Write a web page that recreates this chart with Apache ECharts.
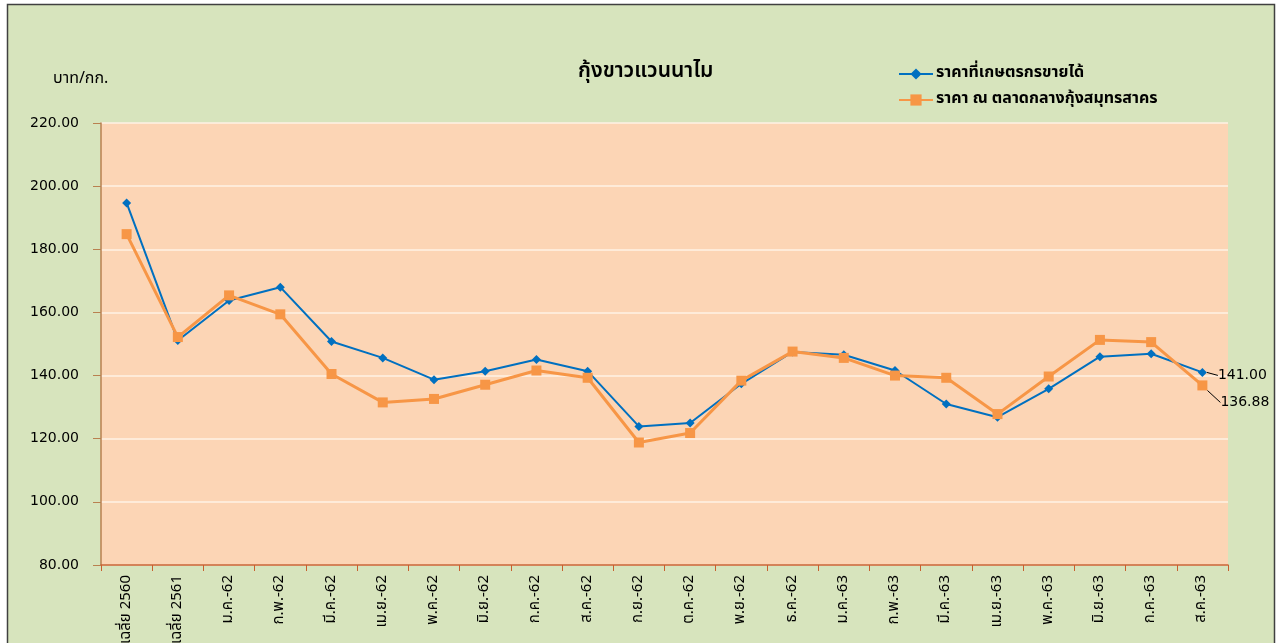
<!DOCTYPE html>
<html><head><meta charset="utf-8">
<script src="https://cdn.jsdelivr.net/npm/echarts@6/dist/echarts.min.js"></script>
<style>html,body{margin:0;padding:0;background:#fff}#c{width:1277px;height:643px}</style>
</head><body><div id="c"></div>
<script>
var categories = ['เฉลี่ย 2560','เฉลี่ย 2561','ม.ค.-62','ก.พ.-62','มี.ค.-62','เม.ย.-62','พ.ค.-62','มิ.ย.-62','ก.ค.-62','ส.ค.-62','ก.ย.-62','ต.ค.-62','พ.ย.-62','ธ.ค.-62','ม.ค.-63','ก.พ.-63','มี.ค.-63','เม.ย.-63','พ.ค.-63','มิ.ย.-63','ก.ค.-63','ส.ค.-63'];
var farmPrice = [194.7,151.1,163.8,168.0,150.8,145.6,138.7,141.4,145.1,141.4,123.9,125.0,137.4,147.5,146.6,141.6,131.0,126.8,135.8,146.0,146.9,141.00];
var marketPrice = [184.8,152.2,165.4,159.4,140.5,131.5,132.6,137.1,141.6,139.3,118.8,121.8,138.4,147.6,145.6,140.0,139.3,127.8,139.7,151.3,150.6,136.88];
var yTicks = {min:80, max:220, interval:20};
var seriesNames = ['ราคาที่เกษตรกรขายได้','ราคา ณ ตลาดกลางกุ้งสมุทรสาคร'];
var titleText = 'กุ้งขาวแวนนาไม';
var unitText = 'บาท/กก.';

var thai = '"Noto Sans Thai","Tahoma","DejaVu Sans",sans-serif';
var numFont = '"DejaVu Sans",sans-serif';
var chart = echarts.init(document.getElementById('c'));
var last = categories.length - 1;

function withEndLabel(values){
  return values.map(function(v, i){
    if (i !== last) return v;
    return {
      value: v,
      label: {show:true, position:'right', distance:8, fontFamily:numFont, fontSize:14, color:'#000',
              formatter:function(p){ return p.value.toFixed(2); }},
      labelLine: {show:true, lineStyle:{color:'#000', width:1}}
    };
  });
}
function shift(dx, dy){
  return function(p){ return p.dataIndex === last ? {dx:dx, dy:dy} : {}; };
}

chart.setOption({
  animation:false,
  backgroundColor:'#ffffff',
  graphic:[
    {type:'rect', z:-10, shape:{x:7.5,y:4.5,width:1267,height:645}, style:{fill:'#D7E4BD', stroke:'#404040', lineWidth:1.5}},
    {type:'text', left:53, top:72, style:{text:unitText, font:'16px '+thai, fill:'#000'}},
    {type:'text', left:578, top:62, style:{text:titleText, font:'600 21px '+thai, fill:'#000'}}
  ],
  legend:{
    left:898, top:66, orient:'vertical', itemGap:10, itemWidth:34, itemHeight:14, padding:0,
    textStyle:{fontFamily:thai, fontSize:16, fontWeight:'bold', color:'#000', padding:[0,0,0,-2]},
    data:seriesNames
  },
  grid:{left:101, right:49, top:123, bottom:78, show:true, backgroundColor:'#FCD5B5', borderWidth:0, outerBoundsMode:'none', containLabel:false},
  xAxis:{
    type:'category', data:categories, boundaryGap:true,
    axisLine:{lineStyle:{color:'#C8602E', width:1.5}},
    axisTick:{show:true, length:6, lineStyle:{color:'#C8602E'}},
    axisLabel:{rotate:90, fontFamily:thai, fontSize:15, color:'#000', margin:10, interval:0}
  },
  yAxis:{
    type:'value', min:yTicks.min, max:yTicks.max, interval:yTicks.interval,
    axisLine:{show:true, lineStyle:{color:'#B98050', width:1.5}},
    axisTick:{show:true, length:8, lineStyle:{color:'#B98050'}},
    axisLabel:{formatter:function(v){return v.toFixed(2);}, fontFamily:numFont, fontSize:14, color:'#000', margin:22},
    splitLine:{lineStyle:{color:'#FFF2E6', width:1.5}}
  },
  series:[
    {name:seriesNames[0], type:'line', data:withEndLabel(farmPrice), symbol:'diamond', symbolSize:9,
     lineStyle:{color:'#0070C0', width:2}, itemStyle:{color:'#0070C0'}, labelLayout:shift(3, 3)},
    {name:seriesNames[1], type:'line', data:withEndLabel(marketPrice), symbol:'rect', symbolSize:10,
     lineStyle:{color:'#F79646', width:3}, itemStyle:{color:'#F79646'}, labelLayout:shift(5, 17)}
  ]
});
</script></body></html>
